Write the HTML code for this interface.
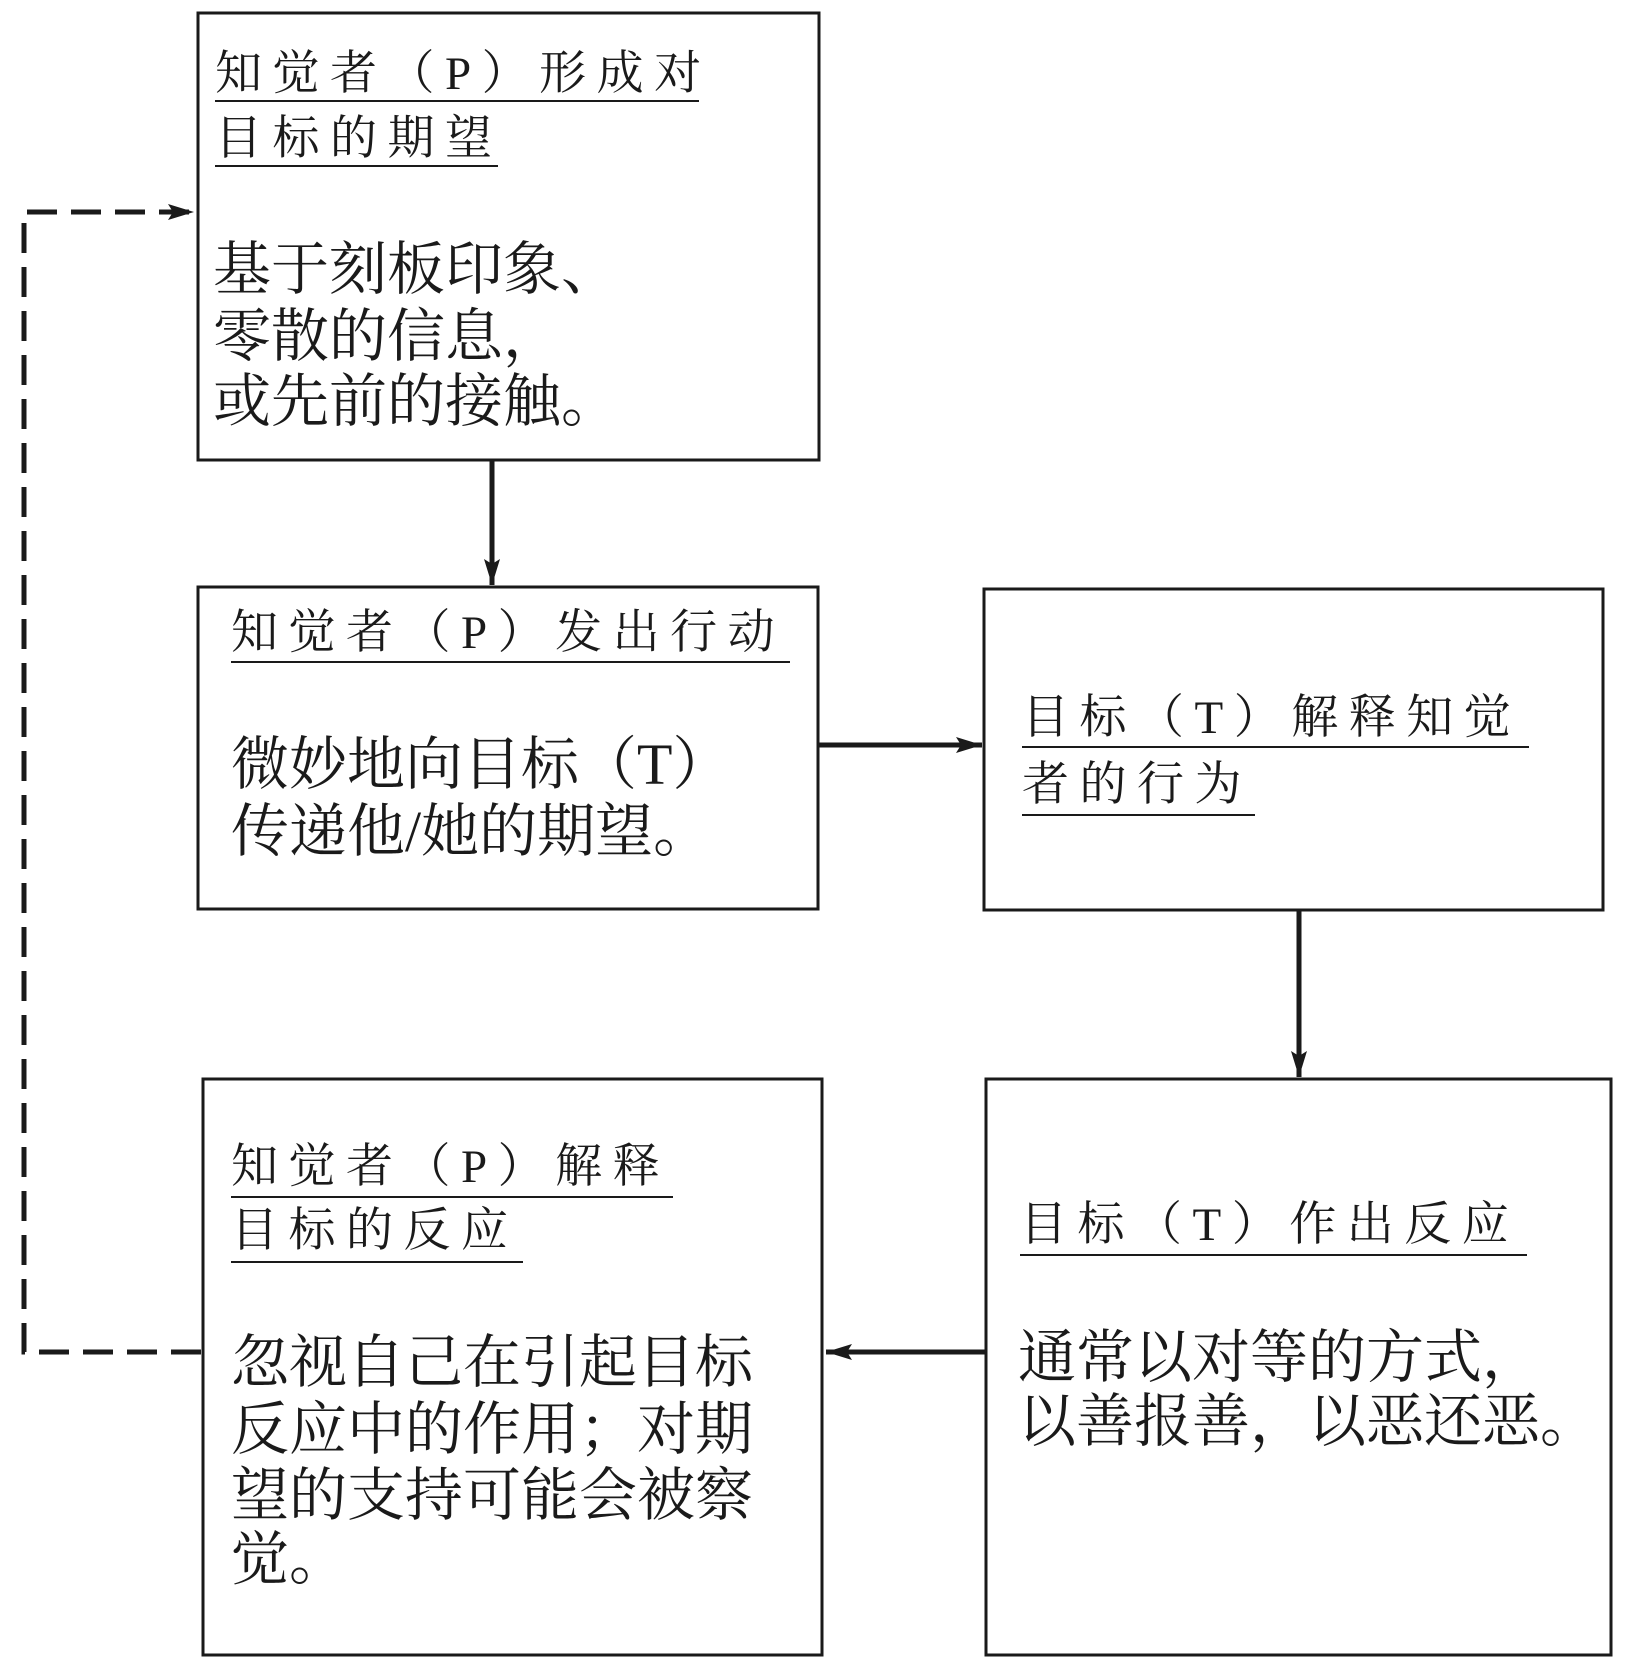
<!DOCTYPE html>
<html><head><meta charset="utf-8">
<style>
html,body{margin:0;padding:0;background:#fff;}
body{width:1634px;height:1661px;position:relative;overflow:hidden;font-family:"Liberation Serif","Noto Serif CJK SC",serif;color:#1a1a1a;}
.t{position:absolute;white-space:nowrap;line-height:60px;height:60px;}
.h{font-size:47px;letter-spacing:10.5px;}
.b{font-size:58px;}
svg{position:absolute;left:0;top:0;}
</style></head><body>
<svg width="1634" height="1661">
<defs>
<marker id="a2" markerWidth="26" markerHeight="16" refX="26" refY="8" orient="auto" markerUnits="userSpaceOnUse"><path d="M0,0 L26,8 L0,16 L5,8 z" fill="#1a1a1a"/></marker></defs>
<g fill="none" stroke="#1a1a1a" stroke-width="3">
<rect x="198" y="13" width="621" height="447"/>
<rect x="198" y="587" width="620" height="322"/>
<rect x="984" y="589" width="619" height="321"/>
<rect x="203" y="1079" width="619" height="576"/>
<rect x="986" y="1079" width="625" height="576"/>
</g>
<g stroke="#1a1a1a" stroke-width="5" fill="none">
<line x1="492" y1="460" x2="492" y2="585" marker-end="url(#a2)"/>
<line x1="818" y1="745" x2="982" y2="745" marker-end="url(#a2)"/>
<line x1="1299" y1="910" x2="1299" y2="1077" marker-end="url(#a2)"/>
<line x1="986" y1="1352" x2="826" y2="1352" marker-end="url(#a2)"/>
<polyline points="201,1352 24,1352 24,212 194,212" stroke-dasharray="30,14" marker-end="url(#a2)"/>
</g>
<g stroke="#1a1a1a" stroke-width="2">
<line x1="215" y1="101" x2="699" y2="101"/>
<line x1="215" y1="166" x2="498" y2="166"/>
<line x1="231" y1="662" x2="790" y2="662"/>
<line x1="1022" y1="747" x2="1529" y2="747"/>
<line x1="1022" y1="815" x2="1255" y2="815"/>
<line x1="231" y1="1197" x2="673" y2="1197"/>
<line x1="231" y1="1262" x2="523" y2="1262"/>
<line x1="1020" y1="1255" x2="1527" y2="1255"/>
</g>
</svg>
<div class="t h" style="left:215px;top:44px">知觉者（P）形成对</div>
<div class="t h" style="left:215px;top:109px">目标的期望</div>
<div class="t b" style="left:213px;top:240px">基于刻板印象、</div>
<div class="t b" style="left:213px;top:307px">零散的信息，</div>
<div class="t b" style="left:213px;top:372px">或先前的接触。</div>

<div class="t h" style="left:231px;top:603px">知觉者（P）发出行动</div>
<div class="t b" style="left:231px;top:735px">微妙地向目标（T）</div>
<div class="t b" style="left:231px;top:802px">传递他/她的期望。</div>

<div class="t h" style="left:1022px;top:688px">目标（T）解释知觉</div>
<div class="t h" style="left:1022px;top:755px">者的行为</div>

<div class="t h" style="left:231px;top:1137px">知觉者（P）解释</div>
<div class="t h" style="left:231px;top:1201px">目标的反应</div>
<div class="t b" style="left:231px;top:1333px">忽视自己在引起目标</div>
<div class="t b" style="left:231px;top:1400px">反应中的作用；对期</div>
<div class="t b" style="left:231px;top:1466px">望的支持可能会被察</div>
<div class="t b" style="left:231px;top:1530px">觉。</div>

<div class="t h" style="left:1020px;top:1195px">目标（T）作出反应</div>
<div class="t b" style="left:1018px;top:1328px">通常以对等的方式，</div>
<div class="t b" style="left:1018px;top:1392px">以善报善，以恶还恶。</div>
</body></html>
